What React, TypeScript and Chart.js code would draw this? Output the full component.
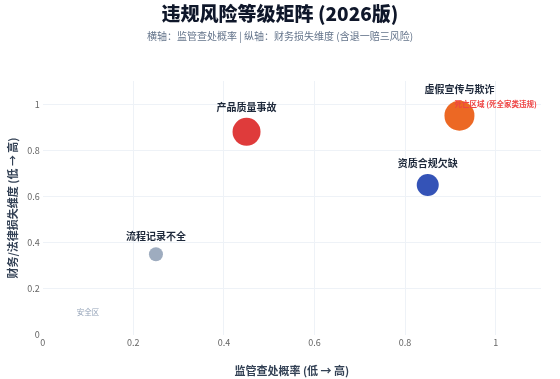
import React, { useEffect, useRef } from "react";
import { Chart, registerables } from "chart.js";

Chart.register(...registerables);

const TITLE = "违规风险等级矩阵 (2026版)";
const SUBTITLE = "横轴：监管查处概率 | 纵轴：财务损失维度 (含退一赔三风险)";
const RISK_NAMES = ["产品质量事故", "虚假宣传与欺诈", "资质合规欠缺", "流程记录不全"];
const PROBABILITY = [0.45, 0.92, 0.85, 0.25];
const LOSS = [0.88, 0.95, 0.65, 0.35];
const BUBBLE_R = [14, 15, 11, 7];
const COLORS = [
  "rgba(220,38,38,0.9)",
  "rgba(234,88,12,0.9)",
  "rgba(30,64,175,0.9)",
  "rgba(148,163,184,0.9)",
];
const TICKS = [0, 0.2, 0.4, 0.6, 0.8, 1];
const AXIS_MIN = 0;
const AXIS_MAX = 1.1;

const ZONE_TEXTS = ["死亡区域 (死全家类违规)", "安全区"];
const ZONE_X = [1.0, 0.1];
const ZONE_Y = [1.0, 0.1];
const ZONE_COLORS = ["#ef4444", "#94a3b8"];

const FONT = "'Noto Sans CJK SC', 'Noto Sans', sans-serif";

const labelPlugin = {
  id: "riskLabels",
  afterDraw(chart: any) {
    const ctx = chart.ctx;
    const w = chart.width;
    ctx.save();
    ctx.textAlign = "center";
    ctx.textBaseline = "middle";
    ctx.font = `900 19px ${FONT}`;
    ctx.fillStyle = "#0f172a";
    ctx.fillText(TITLE, w / 2, 14);
    ctx.font = `10px ${FONT}`;
    ctx.fillStyle = "#64748b";
    ctx.fillText(SUBTITLE, w / 2, 36);
    ctx.restore();
  },
  afterDatasetsDraw(chart: any) {
    const ctx = chart.ctx;
    const meta = chart.getDatasetMeta(0);
    ctx.save();
    ctx.textAlign = "center";
    ctx.textBaseline = "middle";
    ctx.font = `bold 10px ${FONT}`;
    ctx.fillStyle = "#1e293b";
    meta.data.forEach((el: any, i: number) => {
      ctx.fillText(RISK_NAMES[i], el.x, el.y - BUBBLE_R[i] - 11);
    });
    const xs = chart.scales.x;
    const ys = chart.scales.y;
    ZONE_TEXTS.forEach((t, i) => {
      ctx.font = i === 0 ? `bold 7.5px ${FONT}` : `7.5px ${FONT}`;
      ctx.fillStyle = ZONE_COLORS[i];
      ctx.fillText(t, xs.getPixelForValue(ZONE_X[i]), ys.getPixelForValue(ZONE_Y[i]));
    });
    ctx.restore();
  },
};

const gridColor = (c: any) => (c.tick && c.tick.value === 0 ? "rgba(0,0,0,0)" : "#eef2f7");

export default function App() {
  const ref = useRef<HTMLCanvasElement | null>(null);
  useEffect(() => {
    if (!ref.current) return;
    const chart = new Chart(ref.current, {
      type: "bubble",
      data: {
        datasets: [
          {
            label: "风险",
            data: RISK_NAMES.map((_, i) => ({ x: PROBABILITY[i], y: LOSS[i], r: BUBBLE_R[i] })),
            backgroundColor: COLORS,
            borderColor: COLORS,
            borderWidth: 0,
          },
        ],
      },
      options: {
        animation: false,
        responsive: true,
        maintainAspectRatio: false,
        layout: { padding: { left: 6, right: 19, top: 81, bottom: 2 } },
        plugins: {
          legend: { display: false },
          tooltip: { enabled: false },
          title: { display: false },
          subtitle: { display: false },
        },
        scales: {
          x: {
            type: "linear",
            min: AXIS_MIN,
            max: AXIS_MAX,
            afterBuildTicks: (s: any) => {
              s.ticks = TICKS.map((v) => ({ value: v }));
            },
            grid: { color: gridColor, drawTicks: false },
            border: { display: false },
            ticks: {
              color: "#666",
              font: { family: FONT, size: 9 },
              padding: 2,
              callback: (v: any) => String(v),
            },
            title: {
              display: true,
              text: "监管查处概率 (低 → 高)",
              color: "#334155",
              font: { family: FONT, size: 11, weight: "bold" },
              padding: { top: 14, bottom: 0 },
            },
          },
          y: {
            type: "linear",
            min: AXIS_MIN,
            max: AXIS_MAX,
            afterBuildTicks: (s: any) => {
              s.ticks = TICKS.map((v) => ({ value: v }));
            },
            grid: { color: gridColor, drawTicks: false },
            border: { display: false },
            ticks: {
              color: "#666",
              font: { family: FONT, size: 9 },
              padding: 3,
              callback: (v: any) => String(v),
            },
            title: {
              display: true,
              text: "财务/法律损失维度 (低 → 高)",
              color: "#334155",
              font: { family: FONT, size: 11, weight: "bold" },
              padding: { top: 0, bottom: 5 },
            },
          },
        },
      },
      plugins: [labelPlugin],
    });
    return () => chart.destroy();
  }, []);
  return (
    <div style={{ position: "fixed", left: 0, top: 0, width: 560, height: 379, background: "#fff" }}>
      <canvas ref={ref} />
    </div>
  );
}
